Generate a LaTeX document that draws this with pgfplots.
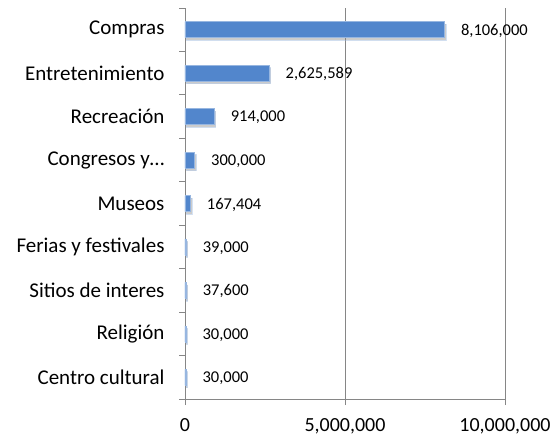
\documentclass[border=0pt]{standalone}
\usepackage{pgfplots}
\pgfplotsset{compat=1.18}
\usepackage{fontspec}
\setmainfont{Carlito}
\usetikzlibrary{shadows}
\definecolor{barblue}{RGB}{82,134,204}
\definecolor{axgray}{RGB}{134,134,134}
\begin{document}
\begin{tikzpicture}
\useasboundingbox (-185pt,-39pt) rectangle (371pt,399pt);
\begin{axis}[
  at={(0,0)}, anchor=south west,
  scale only axis, width=320pt, height=391pt,
  xmin=0, xmax=10000000,
  ymin=-0.5, ymax=8.5, y dir=reverse,
  axis x line*=bottom, axis y line*=left,
  axis line style={axgray, line width=0.8pt},
  xtick={0,5000000,10000000},
  xmajorgrids, grid style={axgray, line width=0.8pt},
  ytick={0,...,8},
  yticklabels={Compras,Entretenimiento,Recreación,Congresos y\ldots,Museos,Ferias y festivales,Sitios de interes,Religión,Centro cultural},
  ytick style={draw=none},
  major tick length=6pt,
  xtick style={axgray, line width=0.8pt},
  tick align=outside,
  scaled x ticks=false,
  clip=false,
  /pgf/number format/.cd, fixed, 1000 sep={,}, assume math mode=true,
  /pgfplots/.cd,
  xticklabel style={font=\fontsize{20}{24}\selectfont, yshift=-10pt},
  yticklabel style={font=\fontsize{21}{25}\selectfont, xshift=-11pt},
  xbar, bar width=16pt,
  nodes near coords,
  every node near coord/.append style={font=\fontsize{16.5}{20}\selectfont, black, xshift=13pt, yshift=-1pt},
]
\addplot[fill=barblue, draw=barblue!60!white, line width=0.6pt,
  drop shadow={opacity=0.4, fill=black!50, shadow xshift=1.5pt, shadow yshift=-2.5pt}]
 coordinates {
  (8106000,0)
  (2625589,1)
  (914000,2)
  (300000,3)
  (167404,4)
  (39000,5)
  (37600,6)
  (30000,7)
  (30000,8)
};
\pgfplotsinvokeforeach{-0.5,0.5,1.5,2.5,3.5,4.5,5.5,6.5,7.5,8.5}{
  \draw[axgray, line width=1pt] (axis cs:0,#1) -- (axis cs:-190000,#1);
}
\end{axis}
\end{tikzpicture}
\end{document}
